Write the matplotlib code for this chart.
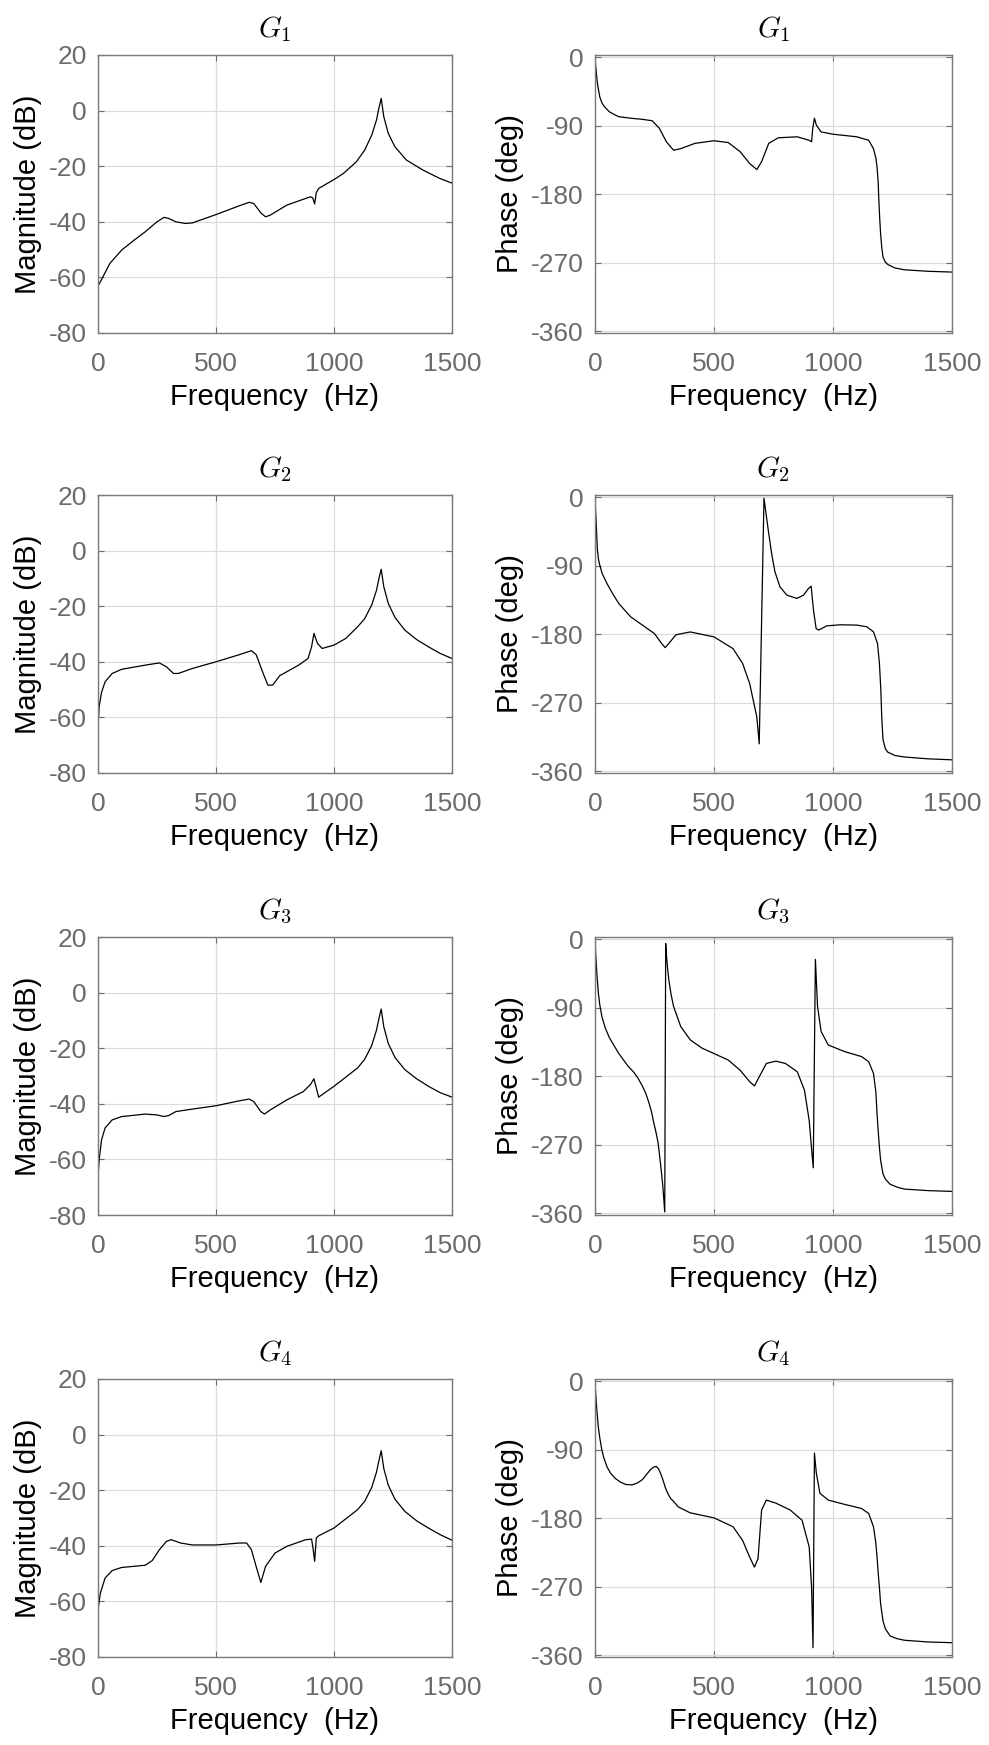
import matplotlib
matplotlib.use("Agg")
import matplotlib.pyplot as plt
import numpy as np

plt.rcParams['font.family'] = ['Liberation Sans', 'DejaVu Sans']
plt.rcParams['mathtext.fontset'] = 'cm'
plt.rcParams['axes.unicode_minus'] = False

# digitised frequency responses (Hz, dB / deg)
g1_mag_f = [0, 10, 50, 100, 150, 200, 250, 280, 300, 330, 370, 400, 500, 600, 640, 660, 690, 710, 730, 800,
            900, 910, 918, 925, 935, 1000, 1040, 1095, 1130, 1160, 1180, 1190, 1200, 1211, 1230, 1258, 1307,
            1377, 1448, 1500]
g1_mag = [-63, -61.6, -55, -50.2, -46.8, -43.6, -40, -38.4, -38.8, -40, -40.6, -40.4, -37.4, -34.2, -33, -33.4,
          -36.8, -38.2, -37.6, -34, -31, -31.4, -33.6, -29.5, -28, -24.8, -22.6, -18.4, -14.2, -8.8, -3.4, 0.8,
          4.4, -2.2, -8.2, -13, -17.8, -21.4, -24.4, -26.1]

g1_ph_f = [0, 3, 10, 20, 30, 40, 60, 80, 100, 150, 200, 240, 270, 300, 330, 360, 420, 500, 560, 610, 650, 680,
           700, 730, 770, 850, 900, 910, 915, 922, 930, 950, 1000, 1100, 1150, 1170, 1180, 1185, 1190, 1192,
           1196, 1200, 1205, 1210, 1220, 1230, 1260, 1300, 1400, 1500]
g1_ph = [0, -12, -34, -52, -60.5, -65, -71.5, -75, -78, -80, -81.5, -83.3, -93, -111, -122, -120, -113, -109.6,
         -112, -124, -139.5, -147.4, -137, -113, -105.7, -104.4, -109, -111, -93, -80, -89, -98, -101, -104.4,
         -109, -120, -132, -144, -165, -183, -210, -231.6, -250, -262, -269, -272, -276.6, -279, -281, -282]

g2_mag_f = [0, 5, 15, 30, 60, 100, 200, 260, 290, 320, 340, 400, 500, 600, 650, 670, 700, 720, 740, 770, 850,
            890, 905, 915, 930, 950, 1000, 1050, 1100, 1130, 1160, 1180, 1190, 1200, 1211, 1230, 1258, 1300,
            1350, 1400, 1450, 1500]
g2_mag = [-63, -56, -51, -47.2, -44.2, -42.7, -41.2, -40.4, -41.8, -44.2, -44.2, -42.4, -40, -37.4, -36, -37.4,
          -44.2, -48.4, -48.4, -45, -41.2, -38.8, -34.6, -29.8, -33.4, -35.2, -34, -31.6, -27.4, -24.5, -19.5,
          -14.3, -10.2, -6.7, -13, -19, -24, -28.6, -32, -34.6, -37, -38.8]

g2_ph_f = [0, 2, 5, 10, 15, 20, 30, 50, 75, 100, 150, 200, 250, 280, 295, 310, 340, 400, 500, 580, 620, 650,
           680, 690, 710, 728, 742, 756, 777, 806, 848, 876, 897, 908, 918, 929, 939, 974, 1030, 1100, 1142,
           1170, 1187, 1195, 1201, 1205, 1210, 1220, 1230, 1260, 1300, 1400, 1500]
g2_ph = [0, -15, -34, -69, -82, -89, -100, -113, -127, -139.5, -157, -168, -179, -192, -197.4, -192, -180.5,
         -176.8, -183.3, -198.7, -218, -244.7, -288.6, -323.7, -1.3, -43, -73.7, -97.8, -117.5, -128.5, -132.8,
         -128.5, -119.7, -116.7, -148, -172.2, -174.4, -168.8, -167.4, -167.8, -170, -176.6, -192, -218, -253,
         -290, -318, -330, -334.6, -339, -341, -343.4, -344.7]

g3_mag_f = [0, 5, 15, 30, 60, 100, 200, 250, 280, 300, 330, 400, 500, 600, 640, 660, 690, 705, 730, 800, 870,
            900, 915, 925, 935, 960, 1000, 1100, 1130, 1160, 1180, 1190, 1200, 1211, 1230, 1258, 1300, 1350,
            1400, 1450, 1500]
g3_mag = [-66.1, -60.1, -53, -48.7, -45.8, -44.6, -43.7, -44, -44.6, -44.2, -42.8, -41.9, -40.7, -38.9, -38.3,
          -39.2, -42.8, -43.7, -42.2, -38.6, -35.6, -33.1, -31, -34.3, -37.6, -36.1, -33.7, -27.1, -24, -19,
          -13.5, -9.5, -5.9, -12.3, -18.3, -23.3, -27.7, -31, -33.7, -36, -37.6]

g3_ph_f = [0, 3, 8, 14, 20, 30, 44, 60, 79, 100, 121, 140, 163, 180, 198, 213, 226, 237, 247, 256, 265, 275,
           285, 293, 297, 300, 305, 310, 320, 330, 360, 400, 450, 500, 560, 610, 650, 670, 690, 720, 760, 800,
           850, 880, 900, 910, 917, 926, 935, 950, 980, 1050, 1120, 1150, 1170, 1180, 1185, 1190, 1195, 1200,
           1210, 1220, 1240, 1270, 1300, 1400, 1500]
g3_ph = [0, -20, -46, -70, -86, -103, -117, -129, -139, -150, -159, -167, -174.6, -182, -192, -202, -214, -226,
         -241, -253, -267, -294, -324, -358, -5.7, -20, -38, -53, -73, -88, -114.5, -132, -143, -150, -158.6,
         -172, -187, -192.5, -180.6, -163, -160, -163, -174, -198, -238, -275, -300, -26.4, -88, -121, -138.8,
         -147.6, -154, -160.8, -176, -200, -229, -252, -273, -290, -308, -315, -321.6, -325.5, -328, -330, -331]

g4_mag_f = [0, 10, 30, 60, 100, 150, 200, 230, 260, 290, 310, 350, 400, 500, 600, 630, 650, 670, 690, 710, 750,
            800, 880, 905, 912, 918, 925, 935, 1000, 1100, 1130, 1160, 1180, 1190, 1200, 1211, 1230, 1258, 1300,
            1350, 1400, 1450, 1500]
g4_mag = [-63, -57, -51.6, -48.9, -47.8, -47.4, -47, -45.3, -41.4, -38.4, -37.8, -39, -39.7, -39.7, -39, -39,
          -41.4, -47.4, -53.2, -47.4, -42.6, -40.2, -37.8, -37.6, -41.4, -45.6, -37.2, -36.4, -33.6, -27, -24,
          -19, -13.5, -9.5, -5.8, -12.2, -18.2, -23.2, -27.6, -31, -33.6, -36, -38]

g4_ph_f = [0, 3, 8, 14, 20, 28, 37, 50, 65, 85, 107, 130, 156, 178, 198, 215, 233, 247, 257, 266, 275, 285,
           296, 307, 317, 331, 350, 400, 500, 580, 620, 650, 670, 685, 700, 720, 760, 820, 870, 900, 910, 916,
           922, 930, 945, 980, 1050, 1120, 1150, 1170, 1180, 1185, 1190, 1195, 1200, 1210, 1220, 1240, 1270,
           1300, 1400, 1500]
g4_ph = [0, -17, -39, -60, -74, -89, -100.5, -112, -120.5, -127.5, -132.4, -135.5, -136, -133.5, -129.4, -123,
         -116, -112.5, -111.8, -114.5, -120.5, -129, -140, -148, -153.6, -158, -165, -172.7, -179.3, -191,
         -208.8, -230.8, -244, -233, -169, -156, -160, -169, -182.4, -217.6, -270.5, -349.8, -94.3, -120.7,
         -147, -156, -161.7, -167, -173.6, -191, -212, -230.8, -252, -270.5, -292, -314.5, -325, -334.4, -338,
         -340, -342.3, -343.2]

titles = ['$G_1$', '$G_2$', '$G_3$', '$G_4$']
mags = [(g1_mag_f, g1_mag), (g2_mag_f, g2_mag), (g3_mag_f, g3_mag), (g4_mag_f, g4_mag)]
phases = [(g1_ph_f, g1_ph), (g2_ph_f, g2_ph), (g3_ph_f, g3_ph), (g4_ph_f, g4_ph)]

W, H = 989, 1745
fig = plt.figure(figsize=(W / 100, H / 100), dpi=100)

row_tops = [55, 495, 937, 1379]
ax_h = 278
tick_col = '#6b6b6b'


def style(ax):
    ax.set_xlim(0, 1500)
    ax.set_xticks([0, 500, 1000, 1500])
    ax.grid(True, color='#dcdcdc', lw=0.9)
    ax.set_axisbelow(True)
    for s in ax.spines.values():
        s.set_color('#7a7a7a')
        s.set_linewidth(1.0)
    ax.tick_params(direction='in', length=4, width=0.8, colors=tick_col, labelsize=19,
                   top=True, right=True)
    ax.tick_params(axis='x', pad=14)
    ax.tick_params(axis='y', pad=8)
    ax.set_xlabel('Frequency  (Hz)', fontsize=21, color='black', labelpad=5)


for i in range(4):
    bottom = 1 - (row_tops[i] + ax_h) / H
    ax = fig.add_axes([98 / W, bottom, 354 / W, ax_h / H])
    f, m = mags[i]
    ax.plot(f, m, color='black', lw=0.9)
    ax.set_ylim(-80, 20)
    ax.set_yticks(np.arange(-80, 21, 20))
    style(ax)
    ax.set_ylabel('Magnitude (dB)', fontsize=21, labelpad=5)
    ax.set_title(titles[i], fontsize=21, pad=13)

    ax2 = fig.add_axes([595 / W, bottom, 357 / W, ax_h / H])
    f, p = phases[i]
    ax2.plot(f, p, color='black', lw=0.9)
    ax2.set_ylim(-362, 3)
    ax2.set_yticks([-360, -270, -180, -90, 0])
    style(ax2)
    ax2.set_ylabel('Phase (deg)', fontsize=21, labelpad=5)
    ax2.set_title(titles[i], fontsize=21, pad=13)

fig.savefig('out.png', dpi=100)
